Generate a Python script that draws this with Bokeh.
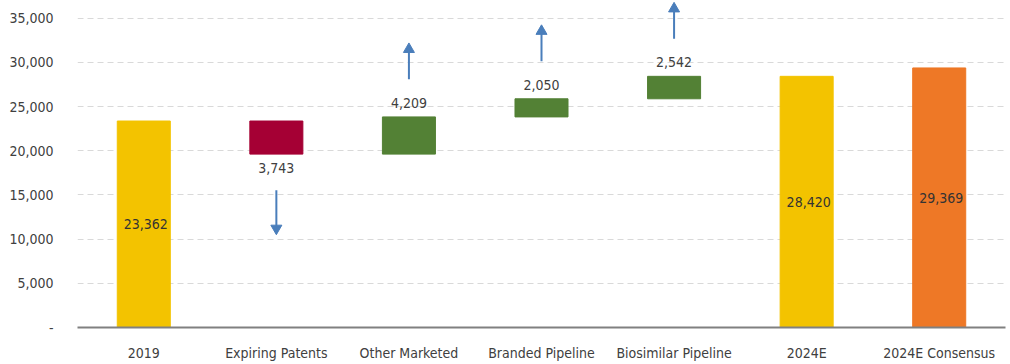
from bokeh.plotting import figure
from bokeh.models import ColumnDataSource, FactorRange, NumeralTickFormatter, Range1d
from bokeh.core.properties import value
from bokeh.embed import file_html
from bokeh.resources import INLINE

categories = ["2019", "Expiring Patents", "Other Marketed", "Branded Pipeline",
              "Biosimilar Pipeline", "2024E", "2024E Consensus"]
changes = [23362, -3743, 4209, 2050, 2542, 28420, 29369]
kinds = ["total", "delta", "delta", "delta", "delta", "total", "total"]
labels = ["23,362", "3,743", "4,209", "2,050", "2,542", "28,420", "29,369"]
colors = ["#F3C300", "#A50034", "#538135", "#538135", "#538135", "#F3C300", "#EE7826"]

# compute floating bar bottoms/tops from the values
bottoms, tops = [], []
running = 0
for c, k in zip(changes, kinds):
    if k == "total":
        bottoms.append(0)
        tops.append(c)
        running = c
    else:
        new = running + c
        bottoms.append(min(running, new))
        tops.append(max(running, new))
        running = new

FONT = "'DejaVu Sans Condensed', 'Roboto', sans-serif"

p = figure(x_range=FactorRange(*categories, range_padding=0), y_range=Range1d(0, 37000),
           width=1010, height=364, output_backend="svg", toolbar_location=None,
           min_border_left=77, min_border_right=5, min_border_top=0, min_border_bottom=37)
p.outline_line_color = None
p.background_fill_color = "white"

src = ColumnDataSource(dict(x=categories, bottom=bottoms, top=tops, color=colors))
p.vbar(x="x", bottom="bottom", top="top", width=0.4, fill_color="color",
       line_color="color", source=src)

# totals: labels centered inside bar
tot_x = [c for c, k in zip(categories, kinds) if k == "total"]
tot_y = [t / 2 for t, k in zip(tops, kinds) if k == "total"]
tot_l = [l for l, k in zip(labels, kinds) if k == "total"]
p.text(x=tot_x, y=tot_y, text=tot_l, text_align="center", text_baseline="middle",
       text_font=value(FONT), text_font_size="14px", text_color="#333333", x_offset=2)

# deltas: labels + arrows
up_x, up_y, up_l = [], [], []
dn_x, dn_y, dn_l = [], [], []
for c, ch, k, b, t, l in zip(categories, changes, kinds, bottoms, tops, labels):
    if k != "delta":
        continue
    if ch > 0:
        up_x.append(c); up_y.append(t); up_l.append(l)
    else:
        dn_x.append(c); dn_y.append(b); dn_l.append(l)

p.text(x=up_x, y=up_y, text=up_l, text_align="center", text_baseline="bottom",
       y_offset=-9, text_font=value(FONT), text_font_size="14px", text_color="#404040")
p.text(x=dn_x, y=dn_y, text=dn_l, text_align="center", text_baseline="top",
       y_offset=9, text_font=value(FONT), text_font_size="14px", text_color="#404040")

ARROW = "#4A7EBB"
gap, length = 4250, 4100
p.segment(x0=up_x, y0=[y + gap for y in up_y], x1=up_x, y1=[y + gap + length - 800 for y in up_y],
          line_color=ARROW, line_width=2)
p.scatter(x=up_x, y=[y + gap + length - 700 for y in up_y], marker="triangle", size=11,
          fill_color=ARROW, line_color=ARROW)
p.segment(x0=dn_x, y0=[y - 4100 for y in dn_y], x1=dn_x, y1=[y - 4100 - 4200 for y in dn_y],
          line_color=ARROW, line_width=2)
p.scatter(x=dn_x, y=[y - 4100 - 4300 for y in dn_y], marker="inverted_triangle", size=11,
          fill_color=ARROW, line_color=ARROW)

# axes
p.yaxis.ticker = [0, 5000, 10000, 15000, 20000, 25000, 30000, 35000]
p.yaxis.formatter = NumeralTickFormatter(format="0,0")
p.yaxis.major_label_overrides = {0: "-"}
p.yaxis.axis_line_color = None
p.yaxis.major_tick_line_color = None
p.yaxis.minor_tick_line_color = None
p.yaxis.major_label_text_font = FONT
p.yaxis.major_label_text_font_size = "14px"
p.yaxis.major_label_text_color = "#404040"
p.yaxis.major_label_standoff = 18

p.xaxis.axis_line_color = "#808080"
p.xaxis.axis_line_width = 2
p.xaxis.major_tick_line_color = None
p.xaxis.minor_tick_line_color = None
p.xaxis.major_label_text_font = FONT
p.xaxis.major_label_text_font_size = "14px"
p.xaxis.major_label_text_color = "#404040"
p.xaxis.major_label_standoff = 11

p.xgrid.grid_line_color = None
p.ygrid.grid_line_color = "#D9D9D9"
p.ygrid.grid_line_dash = "6 4"
p.ygrid.grid_line_width = 1

open("out.html", "w").write(file_html(p, INLINE))
